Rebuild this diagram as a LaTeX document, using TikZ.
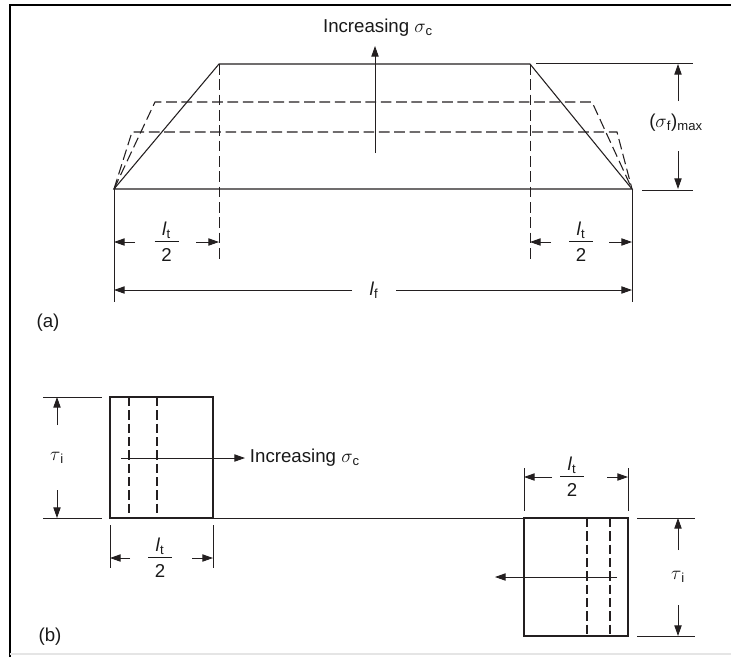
\documentclass[tikz,border=0pt]{standalone}
\usepackage{fontspec}
\setmainfont{Liberation Sans}
\usetikzlibrary{arrows.meta}
\definecolor{InkGray}{HTML}{231F20}

\newcommand{\halflt}{\vbox{\hbox to 18pt{\hfil\textit{l}\textsubscript{t}\hfil}\kern2pt\hrule height 0.7pt\kern5pt\hbox to 18pt{\hfil 2\hfil}}}

\begin{document}
\begin{tikzpicture}[x=0.75pt, y=-0.75pt, color=InkGray, line width=0.8pt,
    every node/.style={font=\fontsize{14}{16}\selectfont, text=black!90},
    dimarrow/.style={-{Triangle[length=8pt, width=5.5pt]}, line width=0.7pt},
    thinline/.style={line width=0.7pt},
    fibrebox/.style={line width=1.5pt},
    dashline/.style={dash pattern=on 8pt off 3.5pt}]
  \useasboundingbox (0,0) rectangle (731,657);
  % frame
  \draw[line width=2.2pt, black] (10,657) -- (10,5) -- (731,5);
  \draw[black!10] (10,654) -- (731,654);

  % (a) fibre stress profile
  \coordinate (endL) at (114,189);
  \coordinate (endR) at (632,189);
  \coordinate (topL) at (219,64);
  \coordinate (topR) at (530,64);
  \draw (endL) -- (topL) -- (topR) -- (endR) -- cycle;
  \foreach \y/\xl/\xr in {102/155/592, 132/132/617} {
    \draw[dashline] (endL) -- (\xl,\y) -- (\xr,\y) -- (endR);
  }
  \draw[thinline, dashline] (topL) -- (219,260);
  \draw[thinline, dashline] (topR) -- (530,260);
  \draw[thinline] (endL) -- (114,302);
  \draw[thinline] (endR) -- (632,302);

  \node (incA) at (378,28) {Increasing $\sigma$\textsubscript{c}};
  \draw[dimarrow] (375,153) -- (375,46);

  % (sigma_f)max
  \draw[thinline] (536,63) -- (693,63);
  \draw[thinline] (642,190) -- (693,190);
  \node (sfmax) at (676,123) {($\sigma$\textsubscript{f})\textsubscript{max}};
  \draw[dimarrow] (678,101) -- (678,64);
  \draw[dimarrow] (678,151) -- (678,189);

  % l_t/2 and l_f
  \foreach \xa/\xb/\n in {114/219/ltL, 530/632/ltR} {
    \node (\n) at ({(\xa+\xb)/2}, 242) {\halflt};
    \draw[dimarrow] (\xa+21,242) -- (\xa,242);
    \draw[dimarrow] (\xb-23,242) -- (\xb,242);
  }
  \node (lf) at (374,290) {\textit{l}\textsubscript{f}};
  \draw[dimarrow] (352,290) -- (114,290);
  \draw[dimarrow] (396,290) -- (632,290);
  \node (labA) at (48,323) {(a)};

  % (b) interfacial shear stress
  \draw[thinline] (110,518) -- (628,518);
  \draw[fibrebox] (110,397) rectangle (213,518);
  \draw[fibrebox] (524,518) rectangle (628,636);
  \foreach \x in {129,157} \draw[fibrebox, dash pattern=on 7pt off 3pt] (\x,397) -- (\x,518);
  \foreach \x in {587,610} \draw[fibrebox, dash pattern=on 7pt off 3pt] (\x,518) -- (\x,636);

  % left block
  \draw[thinline] (43,397) -- (102,397);
  \draw[thinline] (43,518) -- (102,518);
  \node (tauL) at (57,458) {$\tau$\textsubscript{i}};
  \draw[dimarrow] (57,425) -- (57,397);
  \draw[dimarrow] (57,490) -- (57,518);
  \node[anchor=west] (incB) at (245,458) {Increasing $\sigma$\textsubscript{c}};
  \draw[dimarrow] (121,458) -- (incB.west);
  \draw[thinline] (110,525) -- (110,568);
  \draw[thinline] (213,525) -- (213,568);
  \node (ltB) at (160,558) {\halflt};
  \draw[dimarrow] (130,558) -- (110,558);
  \draw[dimarrow] (192,558) -- (213,558);
  \node (labB) at (50,637) {(b)};

  % right block
  \draw[thinline] (637,518) -- (695,518);
  \draw[thinline] (637,636) -- (695,636);
  \node (tauR) at (678,577) {$\tau$\textsubscript{i}};
  \draw[dimarrow] (678,550) -- (678,518);
  \draw[dimarrow] (678,605) -- (678,636);
  \coordinate (backEnd) at (495,577);
  \draw[dimarrow] (617,577) -- (backEnd);
  \draw[thinline] (524,468) -- (524,511);
  \draw[thinline] (628,468) -- (628,511);
  \node (ltC) at (572,477) {\halflt};
  \draw[dimarrow] (552,477) -- (524,477);
  \draw[dimarrow] (607,477) -- (628,477);
\end{tikzpicture}
\end{document}
